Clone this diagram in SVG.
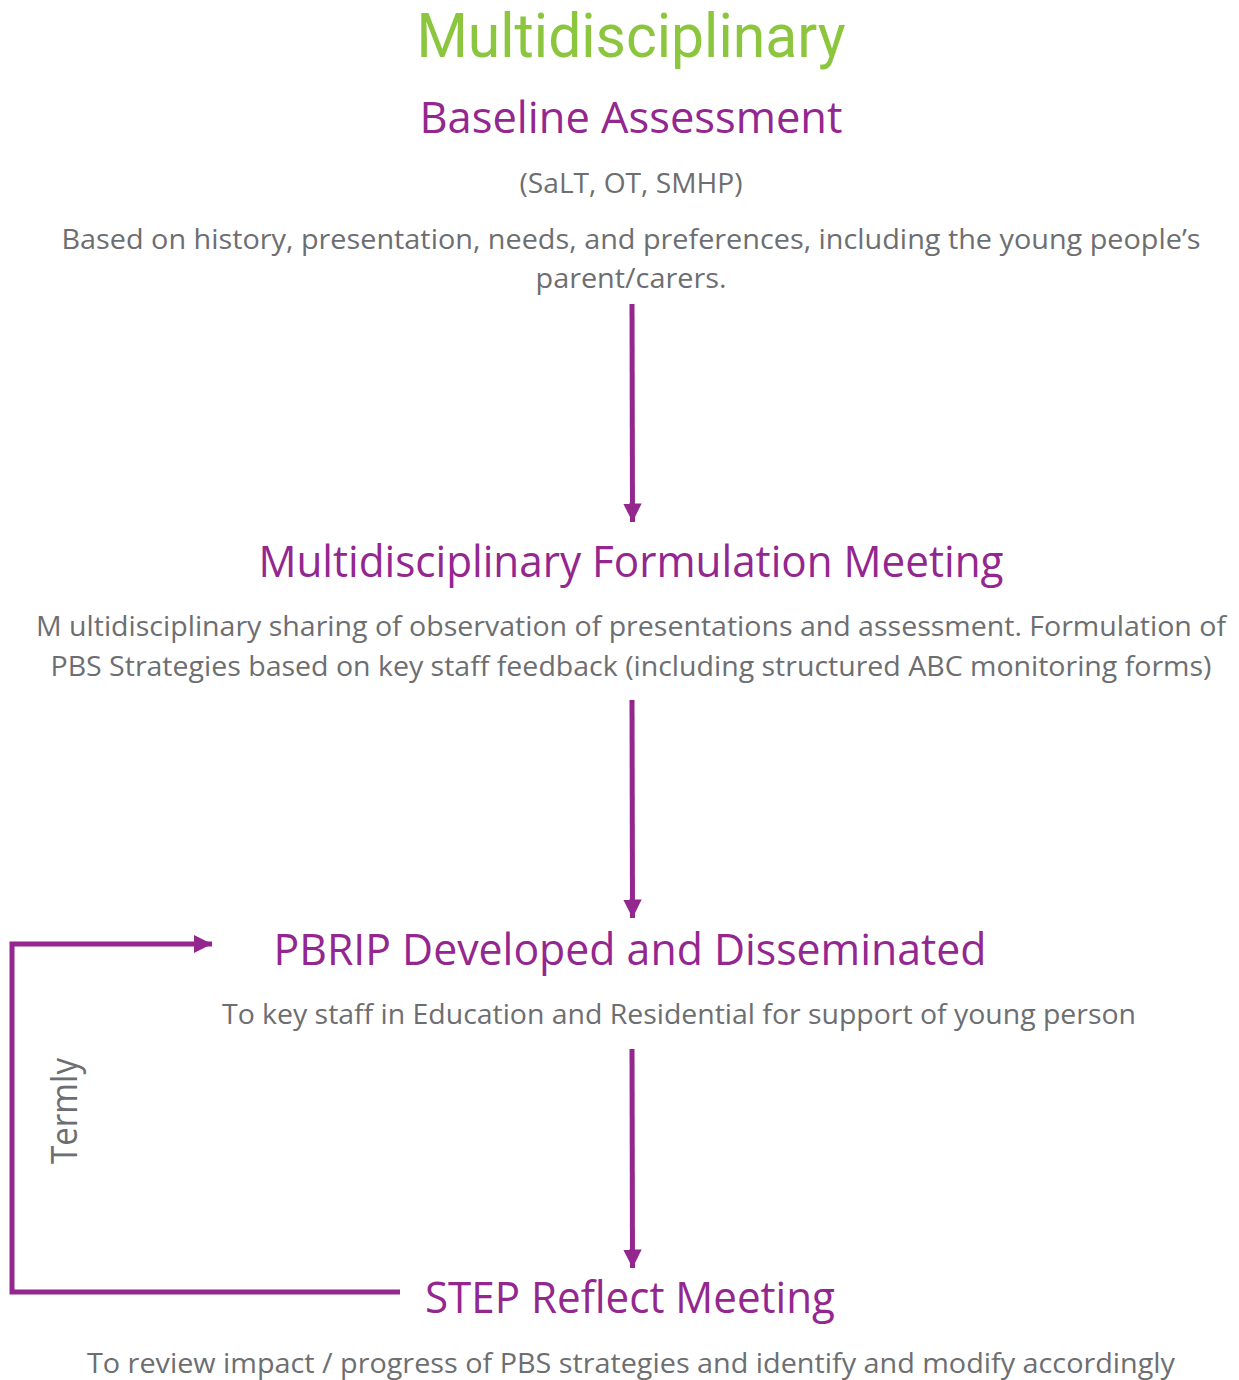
<svg xmlns="http://www.w3.org/2000/svg" width="1239" height="1380" viewBox="0 0 1239 1380">
  <style>
    text { font-family: "Open Sans", "Noto Sans", "Liberation Sans", sans-serif; text-anchor: middle; }
    .title { fill: #8cc63f; font-family: Roboto, "Open Sans", sans-serif; font-size: 61px; }
    .head { fill: #93278f; font-size: 44px; }
    .body { fill: #6d6e71; font-size: 27px; }
    .side { fill: #6d6e71; font-size: 36px; }
    .conn { stroke: #93278f; stroke-width: 5; fill: none; }
  </style>
  <defs>
    <marker id="arrow" viewBox="0 0 10 10" refX="10" refY="5" markerWidth="3.7" markerHeight="3.7" markerUnits="strokeWidth" orient="auto">
      <path d="M0,0 L10,5 L0,10 Z" fill="#93278f"/>
    </marker>
  </defs>

  <text class="title" x="631" y="57" textLength="429" lengthAdjust="spacingAndGlyphs">Multidisciplinary</text>

  <g id="baseline-assessment">
    <text class="head" x="631" y="133" textLength="423" lengthAdjust="spacingAndGlyphs">Baseline Assessment</text>
    <text class="body" x="631" y="193" textLength="223" lengthAdjust="spacingAndGlyphs">(SaLT, OT, SMHP)</text>
    <text class="body" x="631" y="249" textLength="1139" lengthAdjust="spacingAndGlyphs">Based on history, presentation, needs, and preferences, including the young people’s</text>
    <text class="body" x="631" y="288" textLength="191" lengthAdjust="spacingAndGlyphs">parent/carers.</text>
  </g>

  <g id="formulation-meeting">
    <text class="head" x="631" y="577" textLength="745" lengthAdjust="spacingAndGlyphs">Multidisciplinary Formulation Meeting</text>
    <text class="body" x="631" y="636" textLength="1190" lengthAdjust="spacingAndGlyphs">M ultidisciplinary sharing of observation of presentations and assessment. Formulation of</text>
    <text class="body" x="631" y="676" textLength="1161" lengthAdjust="spacingAndGlyphs">PBS Strategies based on key staff feedback (including structured ABC monitoring forms)</text>
  </g>

  <g id="pbrip">
    <text class="head" x="630" y="965" textLength="713" lengthAdjust="spacingAndGlyphs">PBRIP Developed and Disseminated</text>
    <text class="body" x="679" y="1024" textLength="914" lengthAdjust="spacingAndGlyphs">To key staff in Education and Residential for support of young person</text>
  </g>

  <g id="step-reflect">
    <text class="head" x="630" y="1313" textLength="410" lengthAdjust="spacingAndGlyphs">STEP Reflect Meeting</text>
    <text class="body" x="631" y="1373" textLength="1088" lengthAdjust="spacingAndGlyphs">To review impact / progress of PBS strategies and identify and modify accordingly</text>
  </g>

  <g id="connectors">
    <line class="conn" x1="632" y1="304" x2="632.5" y2="522" marker-end="url(#arrow)"/>
    <line class="conn" x1="632" y1="700" x2="632.5" y2="918" marker-end="url(#arrow)"/>
    <line class="conn" x1="632" y1="1049" x2="632.5" y2="1268" marker-end="url(#arrow)"/>
    <polyline class="conn" points="400,1292 12,1292 12,944 212,944" marker-end="url(#arrow)"/>
    <text class="side" x="0" y="0" transform="translate(77,1111) rotate(-90)" textLength="106" lengthAdjust="spacingAndGlyphs">Termly</text>
  </g>
</svg>
